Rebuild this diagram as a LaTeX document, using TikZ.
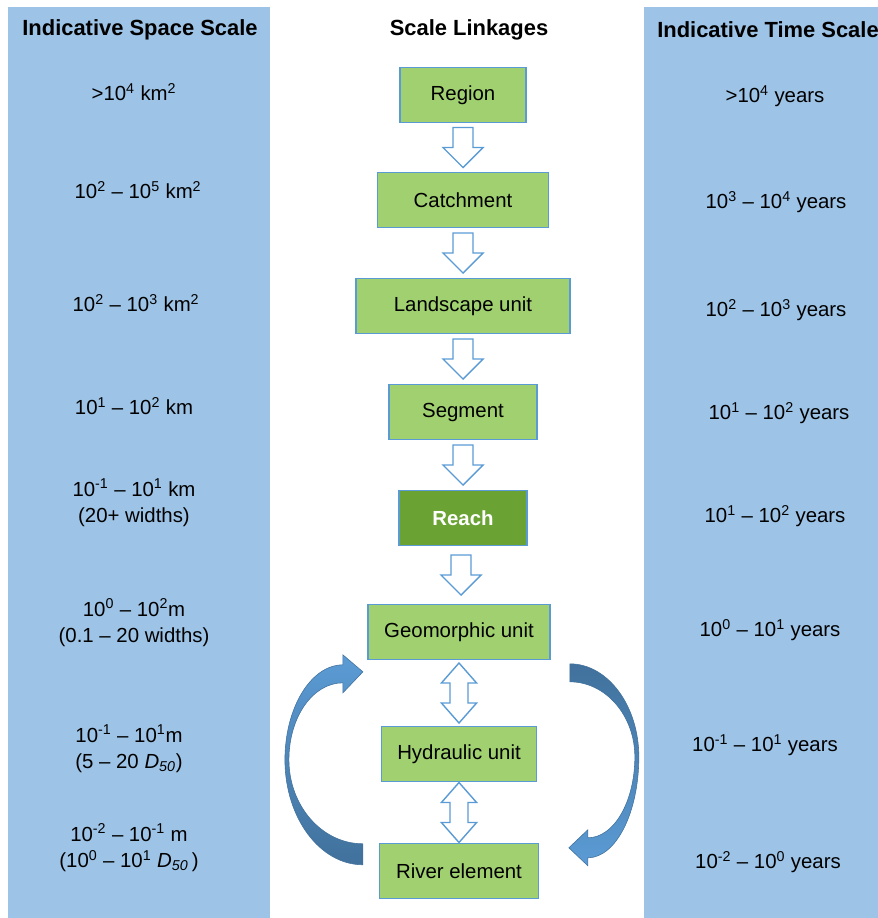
\documentclass[tikz,border=0pt]{standalone}
\usepackage{fontspec}
\setmainfont{Liberation Sans}
\usetikzlibrary{positioning,calc}
\definecolor{panelblue}{HTML}{9DC3E6}
\definecolor{boxgreen}{HTML}{A0D070}
\definecolor{reachgreen}{HTML}{6AA334}
\definecolor{edgeblue}{HTML}{5B9BD5}
\definecolor{arrowlight}{HTML}{5B9BD5}
\definecolor{arrowdark}{HTML}{41719C}

\begin{document}
\begin{tikzpicture}[scalebox/.style={rectangle, draw=edgeblue, line width=1pt, fill=boxgreen, outer sep=0pt, minimum height=1.375cm, font=\fontsize{14.5}{17}\selectfont},
    reachbox/.style={scalebox, fill=reachgreen, text=white, font=\fontsize{14.5}{17}\selectfont\bfseries},
    headtext/.style={font=\fontsize{15.6}{19}\selectfont\bfseries},
    scaletext/.style={align=center, font=\fontsize{14.5}{19}\selectfont},
    blockarrow/.style={draw=edgeblue, line width=1pt, fill=white, line join=miter},
    curvearrow/.style={draw=arrowdark, line width=0.4pt},
    downblock/.pic={\draw[blockarrow] (-0.25,0.5) -- (0.25,0.5) -- (0.25,0) -- (0.5,0) -- (0,-0.5) -- (-0.5,0) -- (-0.25,0) -- cycle;},
    updownblock/.pic={\draw[blockarrow] (0,0.75) -- (0.44,0.25) -- (0.225,0.25) -- (0.225,-0.25) -- (0.44,-0.25) -- (0,-0.75) -- (-0.44,-0.25) -- (-0.225,-0.25) -- (-0.225,0.25) -- (-0.44,0.25) -- cycle;},]
    \useasboundingbox (0,0) rectangle (21.95,-22.95);
    % panels
    \fill[panelblue] (0.2,-0.175) rectangle (6.75,-22.95);
    \fill[panelblue] (16.1,-0.175) rectangle (21.95,-22.95);
    % headings
    \node[headtext]    (spacehead)    at (3.5,-0.75)        {Indicative Space Scale};
    \node[headtext]    (linkhead)     at (11.725,-0.75)     {Scale Linkages};
    \node[headtext]    (timehead)     at (19.2,-0.75)       {Indicative Time Scale};
    % nodes
    \node[scalebox, minimum width=3.15cm]    (region)                                      at (11.575,-2.375) {Region};
    \node[scalebox, minimum width=4.275cm]   (catchment)   [below=1.25cm of region]                       {Catchment};
    \node[scalebox, minimum width=5.35cm]    (landscape)   [below=1.275cm of catchment]                   {Landscape unit};
    \node[scalebox, minimum width=3.7cm]     (segment)     [below=1.275cm of landscape]                   {Segment};
    \node[reachbox, minimum width=3.2cm]     (reach)       [below=1.275cm of segment]                     {Reach};
    \node[scalebox, minimum width=4.55cm]    (geomorphic)  [below=1.475cm of reach, xshift=-0.1cm]        {Geomorphic unit};
    \node[scalebox, minimum width=3.875cm]   (hydraulic)   [below=1.675cm of geomorphic]                  {Hydraulic unit};
    \node[scalebox, minimum width=3.975cm]   (river)       [below=1.55cm of hydraulic]                    {River element};
    % space scale
    \node[scaletext]   (space1)   at (3.35,-2.3)      {>10\textsuperscript{4} km\textsuperscript{2}};
    \node[scaletext]   (space2)   at (3.45,-4.75)     {10\textsuperscript{2} \textendash{} 10\textsuperscript{5} km\textsuperscript{2}};
    \node[scaletext]   (space3)   at (3.4,-7.575)     {10\textsuperscript{2} \textendash{} 10\textsuperscript{3} km\textsuperscript{2}};
    \node[scaletext]   (space4)   at (3.35,-10.15)    {10\textsuperscript{1} \textendash{} 10\textsuperscript{2} km};
    \node[scaletext]   (space5)   at (3.35,-12.575)   {10\textsuperscript{-1} \textendash{} 10\textsuperscript{1} km\\(20+ widths)};
    \node[scaletext]   (space6)   at (3.35,-15.575)   {10\textsuperscript{0} \textendash{} 10\textsuperscript{2}m\\(0.1 \textendash{} 20 widths)};
    \node[scaletext]   (space7)   at (3.225,-18.725)  {10\textsuperscript{-1} \textendash{} 10\textsuperscript{1}m\\(5 \textendash{} 20 \textit{D}\textsubscript{\textit{50}})};
    \node[scaletext]   (space8)   at (3.225,-21.2)    {10\textsuperscript{-2} \textendash{} 10\textsuperscript{-1} m\\(10\textsuperscript{0} \textendash{} 10\textsuperscript{1} \textit{D}\textsubscript{\textit{50}}\,)};
    % time scale
    \node[scaletext]   (time1)    at (19.375,-2.4)    {>10\textsuperscript{4} years};
    \node[scaletext]   (time2)    at (19.4,-5.05)     {10\textsuperscript{3} \textendash{} 10\textsuperscript{4} years};
    \node[scaletext]   (time3)    at (19.4,-7.75)     {10\textsuperscript{2} \textendash{} 10\textsuperscript{3} years};
    \node[scaletext]   (time4)    at (19.475,-10.325) {10\textsuperscript{1} \textendash{} 10\textsuperscript{2} years};
    \node[scaletext]   (time5)    at (19.375,-12.9)   {10\textsuperscript{1} \textendash{} 10\textsuperscript{2} years};
    \node[scaletext]   (time6)    at (19.25,-15.75)   {10\textsuperscript{0} \textendash{} 10\textsuperscript{1} years};
    \node[scaletext]   (time7)    at (19.125,-18.625) {10\textsuperscript{-1} \textendash{} 10\textsuperscript{1} years};
    \node[scaletext]   (time8)    at (19.2,-21.55)    {10\textsuperscript{-2} \textendash{} 10\textsuperscript{0} years};
    % block arrows
    \pic at ($(region.south)!0.5!(catchment.north)$)        {downblock};
    \pic at ($(catchment.south)!0.5!(landscape.north)$)     {downblock};
    \pic at ($(landscape.south)!0.5!(segment.north)$)       {downblock};
    \pic at ($(segment.south)!0.5!(reach.north)$)           {downblock};
    \pic at ($(reach.south)!0.5!(geomorphic.north)$)        {downblock};
    \pic at ($(geomorphic.south)!0.5!(hydraulic.north)$)    {updownblock};
    \pic at ($(hydraulic.south)!0.5!(river.north)$)         {updownblock};
    % curved arrows
    \begin{scope}[x=0.025cm, y=-0.025cm]
        \path[curvearrow, top color=arrowlight, bottom color=arrowdark]
            (363,865) .. controls (320,865) and (285,818) .. (285,760)
            .. controls (285,708) and (311,665) .. (343,665)
            -- (343,655) -- (363,672) -- (343,693) -- (343,683)
            .. controls (313,683) and (289,717) .. (289,760)
            .. controls (289,806) and (322,844) .. (363,844) -- cycle;
        \path[curvearrow, top color=arrowdark, bottom color=arrowlight]
            (570,664) .. controls (608,664) and (639,706) .. (639,757)
            .. controls (639,813) and (616,858) .. (588,858)
            -- (588,866) -- (569,848) -- (588,830) -- (588,838)
            .. controls (614,838) and (635,802) .. (635,757)
            .. controls (635,716) and (606,682) .. (570,682) -- cycle;
    \end{scope}
\end{tikzpicture}
\end{document}
